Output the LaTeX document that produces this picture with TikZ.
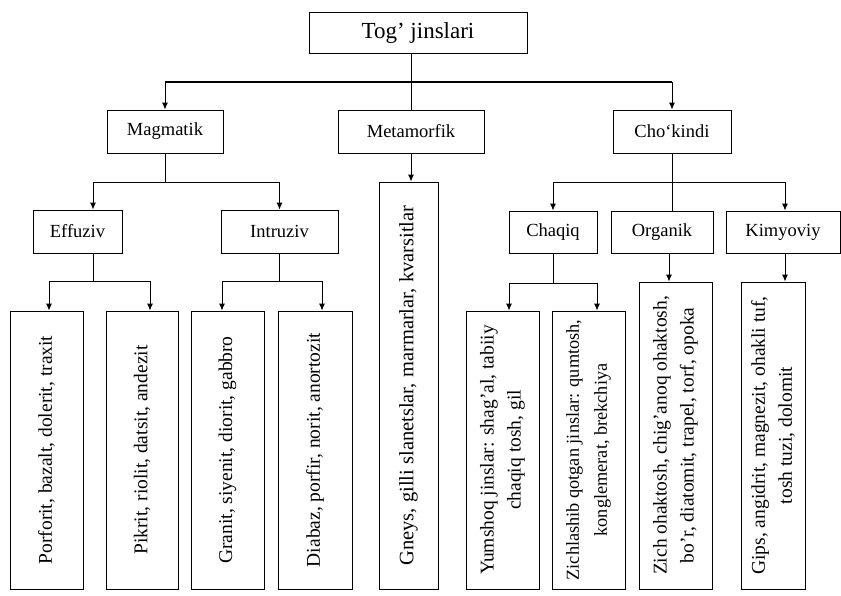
\documentclass[tikz,border=0pt]{standalone}
\usepackage{fontspec}
\setmainfont{Liberation Serif}
\usetikzlibrary{arrows.meta}
\begin{document}
\begin{tikzpicture}[x=1pt,y=-1pt,
  box/.style={draw, line width=0.8pt, inner sep=0pt, align=center},
  conn/.style={line width=1pt},
  thickconn/.style={line width=2pt},
  arr/.style={line width=1pt, -{Latex[length=7pt,width=6pt]}},
  rootfont/.style={font=\fontsize{23}{26}\selectfont},
  midfont/.style={font=\fontsize{18.5}{22}\selectfont},
  leaftext/.style={rotate=90, align=center, inner sep=0pt, font=\fontsize{19.5}{27}\selectfont},
  bigleaf/.style={font=\fontsize{20.5}{28}\selectfont},
  smallleaf/.style={font=\fontsize{18.3}{28}\selectfont}
]
\useasboundingbox (0,0) rectangle (841,595);

% top levels
\node[box, rootfont, minimum width=218pt, minimum height=41pt] (root) at (418,32.5) {Tog' jinslari};
\node[box, midfont, minimum width=116pt, minimum height=43pt] (mag) at (165,131.5) {Magmatik};
\node[box, midfont, minimum width=146pt, minimum height=43pt] (met) at (411,131.5) {Metamorfik};
\node[box, midfont, minimum width=118pt, minimum height=43pt] (cho) at (672,131.5) {Cho‘kindi};

\node[box, midfont, minimum width=89pt, minimum height=43pt] (eff) at (77.5,231.5) {Effuziv};
\node[box, midfont, minimum width=117pt, minimum height=43pt] (int) at (279.5,231.5) {Intruziv};
\node[box, midfont, minimum width=88pt, minimum height=42pt] (chq) at (553,232) {Chaqiq};
\node[box, midfont, minimum width=102pt, minimum height=42pt] (org) at (662,232) {Organik};
\node[box, midfont, minimum width=114pt, minimum height=42pt] (kim) at (783,232) {Kimyoviy};

% leaves
\node[box, minimum width=73pt, minimum height=278pt] (b1) at (46.5,450) {};
\node[box, minimum width=72pt, minimum height=278pt] (b2) at (142,450) {};
\node[box, minimum width=73pt, minimum height=278pt] (b3) at (227.5,450) {};
\node[box, minimum width=74pt, minimum height=278pt] (b4) at (315,450) {};
\node[box, minimum width=59pt, minimum height=407pt] (ml) at (408.5,385.5) {};
\node[box, minimum width=73pt, minimum height=278pt] (yum) at (502.5,450) {};
\node[box, minimum width=73pt, minimum height=278pt] (zic) at (588.5,450) {};
\node[box, minimum width=73pt, minimum height=307pt] (ol) at (675.5,435.5) {};
\node[box, minimum width=64pt, minimum height=307pt] (kl) at (773,435.5) {};

\node[leaftext] (t1) at (b1) {Porforit, bazalt, dolerit, traxit};
\node[leaftext] (t2) at (b2) {Pikrit, riolit, datsit, andezit};
\node[leaftext] (t3) at (b3) {Granit, siyenit, diorit, gabbro};
\node[leaftext] (t4) at (b4) {Diabaz, porfir, norit, anortozit};
\node[leaftext, bigleaf] (tm) at (ml) {Gneys, gilli slanetslar, marmarlar, kvarsitlar};
\node[leaftext] (ty) at (yum) {Yumshoq jinslar: shag'al, tabiiy\\chaqiq tosh, gil};
\node[leaftext, smallleaf] (tz) at (zic) {Zichlashib qotgan jinslar: qumtosh,\\konglemerat, brekchiya};
\node[leaftext] (to) at (ol) {Zich ohaktosh, chig'anoq ohaktosh,\\bo'r, diatomit, trapel, torf, opoka};
\node[leaftext] (tk) at (kl) {Gips, angidrit, magnezit, ohakli tuf,\\tosh tuzi, dolomit};

% helper coordinates
\coordinate (bar1) at (0,82);
\coordinate (bar2) at (0,182);
\coordinate (bar3) at (0,281);
\coordinate (bar4) at (0,283);
\coordinate (xeff) at (93,0);
\coordinate (xb1) at (49,0);
\coordinate (xb2) at (150,0);
\coordinate (xb3) at (222,0);
\coordinate (xb4) at (322,0);
\coordinate (xyum) at (509,0);
\coordinate (xzic) at (597,0);
\coordinate (xorg) at (669,0);
\coordinate (xkim) at (785,0);

% root level
\draw[conn] (root.south -| met.north) -- (met.north);
\draw[thickconn] (mag.north |- bar1) -- (cho.north |- bar1);
\draw[arr] (mag.north |- bar1) -- (mag.north);
\draw[arr] (cho.north |- bar1) -- (cho.north);

% Magmatik
\draw[conn] (mag.south) -- (mag.south |- bar2);
\draw[conn] (xeff |- bar2) -- (int.north |- bar2);
\draw[arr] (xeff |- bar2) -- (xeff |- eff.north);
\draw[arr] (int.north |- bar2) -- (int.north);

% Effuziv
\draw[conn] (xeff |- eff.south) -- (xeff |- bar3);
\draw[conn] (xb1 |- bar3) -- (xb2 |- bar3);
\draw[arr] (xb1 |- bar3) -- (xb1 |- b1.north);
\draw[arr] (xb2 |- bar3) -- (xb2 |- b2.north);

% Intruziv
\draw[conn] (int.south) -- (int.south |- bar3);
\draw[conn] (xb3 |- bar3) -- (xb4 |- bar3);
\draw[arr] (xb3 |- bar3) -- (xb3 |- b3.north);
\draw[arr] (xb4 |- bar3) -- (xb4 |- b4.north);

% Metamorfik
\draw[arr] (met.south) -- (met.south |- ml.north);

% Cho'kindi
\draw[conn] (cho.south) -- (cho.south |- org.north);
\draw[conn] (chq.north |- bar2) -- (xkim |- bar2);
\draw[arr] (chq.north |- bar2) -- (chq.north);
\draw[arr] (xkim |- bar2) -- (xkim |- kim.north);

% Chaqiq
\draw[conn] (chq.south) -- (chq.south |- bar4);
\draw[conn] (xyum |- bar4) -- (xzic |- bar4);
\draw[arr] (xyum |- bar4) -- (xyum |- yum.north);
\draw[arr] (xzic |- bar4) -- (xzic |- zic.north);

% Organik, Kimyoviy
\draw[arr] (xorg |- org.south) -- (xorg |- ol.north);
\draw[arr] (xkim |- kim.south) -- (xkim |- kl.north);
\end{tikzpicture}
\end{document}
